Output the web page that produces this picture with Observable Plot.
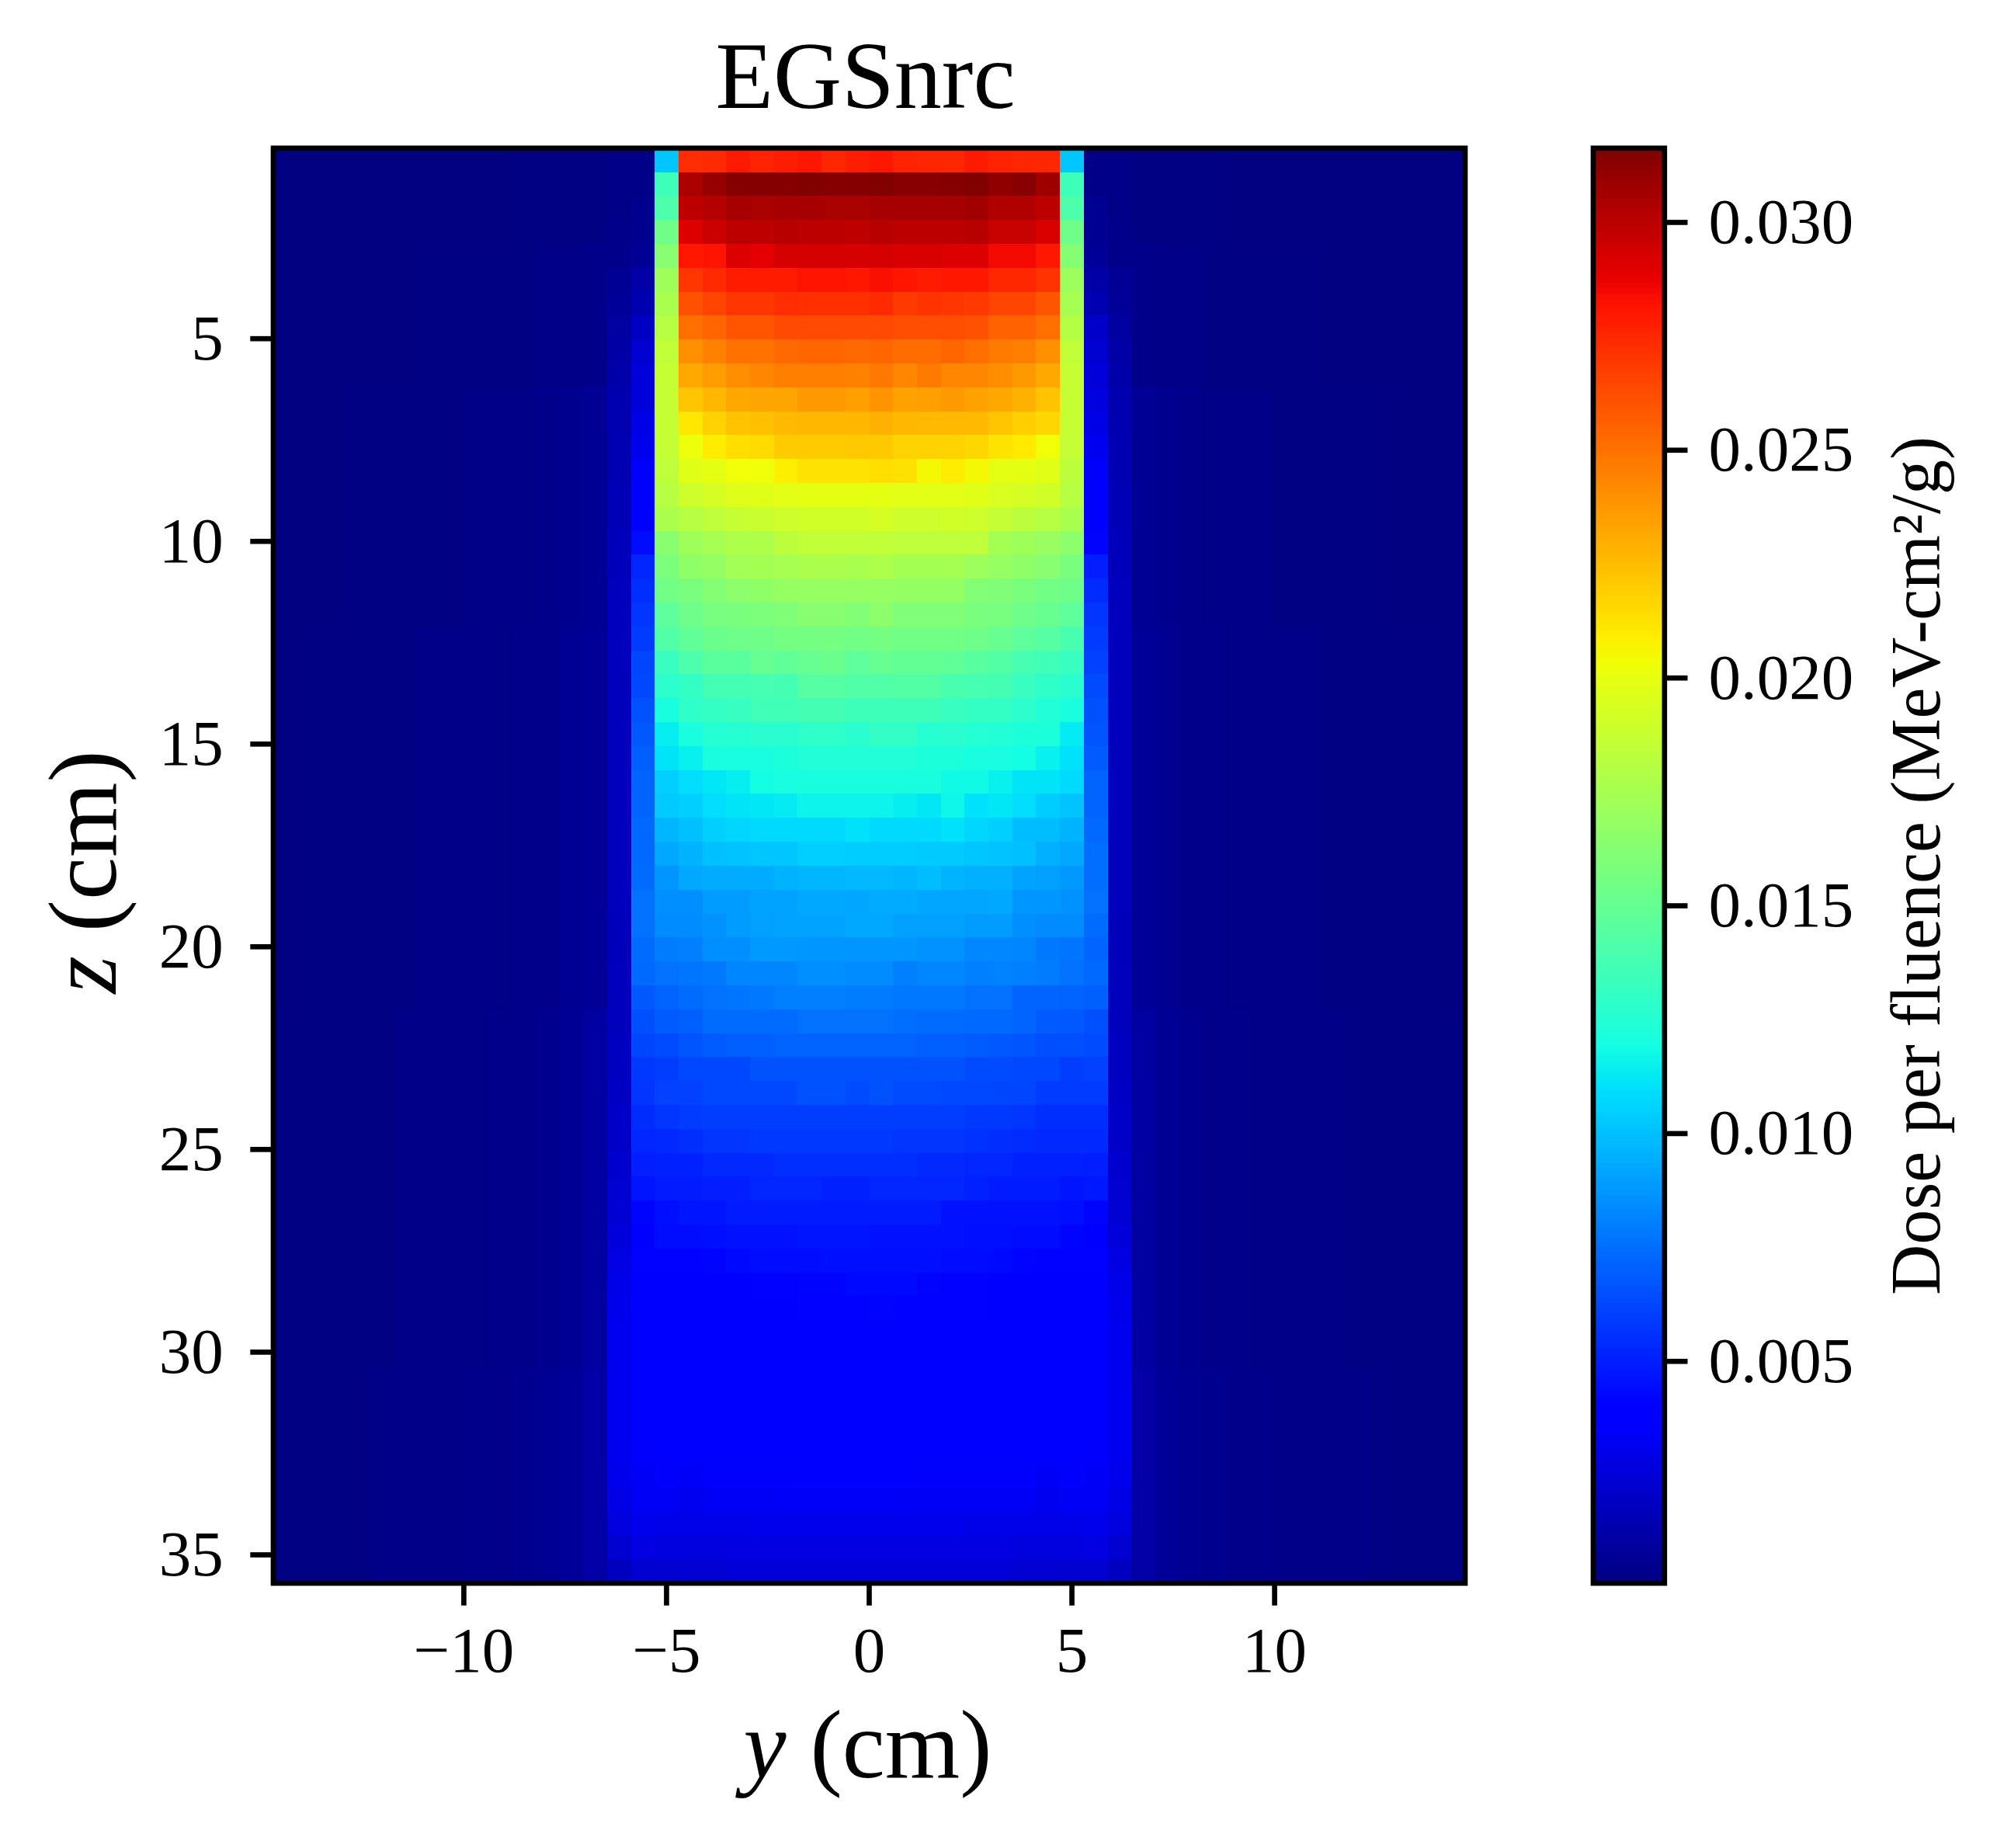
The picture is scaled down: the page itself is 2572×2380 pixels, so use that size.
<!DOCTYPE html>
<html>
<head>
<meta charset="utf-8">
<script src="https://cdn.jsdelivr.net/npm/d3@7"></script>
<script src="https://cdn.jsdelivr.net/npm/@observablehq/plot@0.6"></script>
<style>
html,body{margin:0;padding:0;background:#fff}
#page{position:relative;width:2572px;height:2380px;overflow:hidden;background:#fff}
#page svg{position:absolute;top:0;overflow:visible;background:transparent}
</style>
</head>
<body>
<div id="page"></div>
<script>
// Dose per fluence, in units of 1e-4 MeV-cm2/g.
const farLa=[1,1,1,1,1,1,1,1,1,1,2,2,2,2];
const farLb=[1,1,1,1,1,1,2,2,2,2,2,3,3,4];
const farLc=[1,1,1,2,2,2,2,2,3,3,3,4,5,7];
const farLd=[1,2,2,2,2,2,3,3,3,3,4,4,6,8];
const farLe=[2,2,2,2,2,3,3,3,3,4,4,5,7,10];
const farLf=[2,2,2,2,3,3,3,3,4,4,5,6,8,11];
const farRa=[2,2,2,2,1,1,1,1,1,1,1,1,1,1];
const farRb=[4,3,3,2,2,2,2,2,1,1,1,1,1,1];
const farRc=[7,5,4,3,3,3,2,2,2,2,2,1,1,1];
const farRd=[8,6,4,4,3,3,3,3,2,2,2,2,2,1];
const farRe=[10,7,5,4,4,3,3,3,3,2,2,2,2,2];
const farRf=[11,8,6,5,4,4,3,3,3,3,2,2,2,2];
const doseRows=[
[...farLa,3,3,102,273,274,279,276,278,280,275,278,280,276,275,275,279,276,275,275,102,3,3,...farRa],
[...farLa,3,3,135,305,310,315,315,315,316,315,315,316,314,314,315,316,312,314,308,135,3,3,...farRa],
[...farLa,3,5,141,300,302,306,305,306,306,305,305,306,306,306,306,307,303,303,300,141,6,3,...farRa],
[...farLa,4,5,154,291,296,300,300,301,300,300,299,301,300,300,300,301,297,297,292,153,6,4,...farRa],
[...farLb,4,7,163,280,282,291,289,293,293,293,293,293,292,292,291,291,285,285,280,162,8,4,...farRb],
[...farLb,7,11,172,270,274,279,279,279,282,282,280,283,281,279,280,280,275,275,271,171,12,7,...farRb],
[...farLb,8,14,176,261,265,270,270,273,272,272,272,274,269,271,270,269,265,265,260,175,15,8,...farRb],
[...farLb,10,20,181,251,254,260,260,263,263,263,263,263,262,262,262,261,255,255,251,180,21,10,...farRb],
[...farLb,12,23,185,240,245,250,250,253,254,254,253,254,252,252,254,251,247,246,240,185,23,12,...farRb],
[...farLb,13,26,187,232,236,241,243,246,246,246,245,248,243,247,243,243,241,237,232,187,26,13,...farRb],
[...farLc,14,26,187,222,227,232,233,233,237,237,235,239,234,235,237,234,232,229,223,187,27,14,...farRc],
[...farLc,14,29,187,211,218,223,224,226,227,227,227,229,227,226,226,226,222,219,216,187,29,14,...farRc],
[...farLc,15,31,186,202,209,214,215,220,220,220,221,221,218,218,218,216,212,210,203,186,32,15,...farRc],
[...farLc,15,35,184,197,199,203,203,208,212,212,212,214,213,205,209,205,199,199,197,183,35,15,...farRc],
[...farLc,16,37,181,190,193,196,197,198,199,199,199,199,198,198,198,197,194,193,191,181,37,16,...farRc],
[...farLc,16,38,177,181,184,187,188,190,191,191,191,193,190,190,191,190,186,183,181,176,38,16,...farRc],
[...farLc,17,44,164,172,175,178,178,183,185,185,185,185,184,184,184,184,174,172,170,165,42,17,...farRc],
[...farLc,17,52,159,166,168,173,174,175,177,177,176,178,174,174,174,171,169,166,163,158,50,17,...farRc],
[...farLc,18,55,155,158,162,165,166,169,169,169,169,169,168,168,168,161,160,158,155,154,54,18,...farRc],
[...farLc,18,57,147,153,157,158,159,160,163,163,161,165,160,160,160,158,157,153,151,147,57,18,...farRc],
[...farLd,18,59,142,148,152,153,154,156,156,156,155,156,155,155,155,153,151,147,144,139,59,18,...farRd],
[...farLd,18,62,133,140,146,146,150,148,150,152,147,150,149,149,148,145,143,138,136,133,61,18,...farRd],
[...farLd,18,63,128,131,137,137,138,137,144,144,142,142,143,143,139,138,137,133,129,127,64,18,...farRd],
[...farLd,18,66,121,129,131,132,136,136,137,137,135,135,135,135,133,131,131,128,124,121,66,18,...farRd],
[...farLd,18,68,114,121,125,126,127,127,129,129,127,130,130,126,127,125,124,122,122,113,67,18,...farRd],
[...farLd,18,70,111,115,121,121,121,122,124,124,124,124,124,122,122,120,120,119,115,110,69,18,...farRd],
[...farLd,18,71,105,109,112,114,119,120,121,121,121,121,121,121,118,118,115,111,111,108,72,18,...farRd],
[...farLd,18,72,103,105,109,111,112,113,116,116,116,116,114,112,117,110,112,109,104,101,72,18,...farRd],
[...farLd,18,73,97,100,105,107,108,108,108,108,110,108,108,108,110,107,105,99,99,96,73,18,...farRd],
[...farLd,18,73,93,96,100,101,102,102,105,105,104,104,104,103,103,102,101,100,95,93,75,18,...farRd],
[...farLd,18,74,87,93,94,94,94,96,97,97,98,98,97,99,96,95,95,91,90,88,75,18,...farRd],
[...farLd,18,76,85,85,89,89,91,91,93,93,92,94,94,92,92,92,93,87,87,86,76,18,...farRd],
[...farLd,17,76,84,84,86,89,90,91,91,91,93,93,90,90,90,89,89,85,84,84,74,17,...farRd],
[...farLd,17,74,79,80,85,85,88,88,87,87,87,87,87,86,86,83,83,82,78,77,72,17,...farRd],
[...farLd,18,73,76,77,78,82,82,82,85,85,84,84,80,82,82,80,81,80,79,76,73,18,...farRd],
[...farLd,18,68,71,74,76,77,78,80,80,80,79,79,78,78,78,76,76,72,72,71,70,18,...farRd],
[...farLe,18,65,69,70,74,74,74,74,76,76,76,76,75,74,74,73,73,72,69,68,65,18,...farRe],
[...farLe,19,62,64,67,69,70,70,71,71,71,71,71,71,70,70,69,68,67,65,65,64,19,...farRe],
[...farLe,19,58,60,63,63,63,66,66,66,66,66,66,66,66,66,64,64,63,63,60,61,19,...farRe],
[...farLe,20,57,61,61,63,63,63,63,66,66,64,66,64,64,63,63,62,62,59,59,59,20,...farRe],
[...farLe,21,54,57,59,60,60,60,60,60,60,60,60,60,60,60,58,58,57,55,55,55,21,...farRe],
[...farLe,21,52,53,55,57,57,58,58,58,58,58,58,57,57,57,56,55,54,53,53,53,21,...farRe],
[...farLe,22,50,51,51,53,53,53,55,55,55,55,55,55,53,53,52,52,51,51,51,50,22,...farRe],
[...farLe,23,47,49,49,50,50,52,52,52,51,51,52,52,52,52,51,49,49,49,47,48,23,...farRe],
[...farLe,24,42,45,47,47,49,49,49,49,49,49,49,49,49,46,46,46,46,46,45,42,24,...farRe],
[...farLe,26,40,44,44,45,46,46,46,47,47,47,46,46,46,46,45,45,44,44,42,40,26,...farRe],
[...farLe,28,41,41,41,42,43,44,44,44,45,45,45,45,45,44,44,43,42,41,41,41,28,...farRe],
[...farLe,30,38,39,39,39,40,41,41,42,42,43,43,43,42,41,41,40,39,39,39,38,30,...farRe],
[...farLe,31,37,38,38,38,38,39,39,41,41,41,42,41,41,41,41,39,38,38,38,37,31,...farRe],
[...farLe,32,36,37,37,37,38,38,38,39,39,39,39,39,39,39,38,38,38,37,37,36,32,...farRe],
[...farLe,32,36,36,37,37,37,38,38,38,38,38,38,38,38,38,38,38,37,37,36,36,32,...farRe],
[...farLf,32,36,36,37,37,37,37,38,38,38,38,38,38,38,37,37,37,37,37,36,36,32,...farRf],
[...farLf,32,36,36,37,37,37,37,37,38,38,38,38,38,37,37,37,37,37,37,36,36,32,...farRf],
[...farLf,32,36,36,36,37,37,37,37,37,38,38,38,37,37,37,37,37,37,36,36,36,32,...farRf],
[...farLf,32,35,36,36,36,37,37,37,37,37,37,37,37,37,37,37,37,36,36,36,35,32,...farRf],
[...farLf,31,34,35,34,35,35,35,35,36,36,36,36,36,35,35,35,35,35,34,35,34,31,...farRf],
[...farLf,29,33,33,32,33,33,33,34,34,34,34,34,34,33,33,33,33,33,32,33,33,29,...farRf],
[...farLf,27,31,30,30,30,30,31,31,31,31,31,31,31,31,31,30,30,30,30,30,31,27,...farRf],
[...farLf,23,28,27,27,27,28,28,28,28,28,28,28,28,28,28,28,28,27,27,27,28,23,...farRf],
[...farLf,19,23,23,24,24,25,25,25,25,25,25,25,25,25,25,25,25,24,24,23,23,19,...farRf]
];
const doseValues=doseRows.flat().map(v=>v/1e4);

// Axis extents and ticks
const yExtent=[-14.7,14.7];
const zExtent=[0.3,35.7];
const yTicks=[-10,-5,0,5,10];
const zTicks=[5,10,15,20,25,30,35];
const barDomain=[0.00013,0.03163];
const barTicks=[0.005,0.01,0.015,0.02,0.025,0.03];

// matplotlib jet control points
const jetStops=[0,0.11,0.125,0.34,0.35,0.375,0.64,0.65,0.66,0.89,0.91,1];
const jetColors=["rgb(0,0,128)","rgb(0,0,255)","rgb(0,0,255)","rgb(0,219,255)","rgb(0,230,247)","rgb(21,255,226)","rgb(239,255,8)","rgb(247,246,0)","rgb(255,236,0)","rgb(255,19,0)","rgb(232,0,0)","rgb(128,0,0)"];
const colorScale={type:"linear",domain:jetStops.map(t=>barDomain[0]+t*(barDomain[1]-barDomain[0])),range:jetColors,clamp:true};

const font="'Liberation Serif',serif";
const lineW=6.67, tickL=29.2;

const main=Plot.plot({
  width:1960,height:2380,
  marginLeft:351.5,marginRight:73.5,marginTop:190.3,marginBottom:341.5,
  style:{fontFamily:font,background:"transparent"},
  x:{domain:yExtent,label:null},
  y:{domain:zExtent,reverse:true,label:null},
  color:colorScale,
  marks:[
    Plot.raster(doseValues,{fill:Plot.identity,width:50,height:60,x1:yExtent[0],x2:yExtent[1],y1:zExtent[0],y2:zExtent[1],imageRendering:"pixelated"}),
    Plot.frame({stroke:"#000",strokeWidth:lineW}),
    Plot.axisX({ticks:yTicks,tickSize:tickL,tickPadding:26,strokeWidth:lineW,stroke:"#000",fontSize:83,fill:"#000",label:null,tickFormat:d=>d<0?"\u2212"+Math.abs(d):String(d)}),
    Plot.axisY({ticks:zTicks,tickSize:tickL,tickPadding:35,strokeWidth:lineW,stroke:"#000",fontSize:83,fill:"#000",label:null,tickFormat:d=>String(d)}),
    Plot.text(["EGSnrc"],{frameAnchor:"top",dx:-5,dy:-52,lineAnchor:"bottom",fontSize:122,fill:"#000"}),
    Plot.text(["y (cm)"],{frameAnchor:"bottom",dx:-2,dy:250,lineAnchor:"bottom",fontSize:124,fill:"#000"}),
    Plot.text(["z (cm)"],{frameAnchor:"left",textAnchor:"middle",dx:-243,dy:8,rotate:-90,fontSize:124,fill:"#000"})
  ]
});

const bar=Plot.plot({
  width:612,height:2380,
  marginLeft:91.5,marginRight:428.7,marginTop:190.3,marginBottom:341.5,
  style:{fontFamily:font,background:"transparent"},
  x:{domain:[0,1],axis:null},
  y:{domain:barDomain,label:null},
  color:colorScale,
  marks:[
    Plot.raster({fill:(x,y)=>y,width:1,height:256,x1:0,x2:1,y1:barDomain[0],y2:barDomain[1],imageRendering:"pixelated"}),
    Plot.frame({stroke:"#000",strokeWidth:lineW}),
    Plot.axisY({anchor:"right",ticks:barTicks,tickSize:tickL,tickPadding:27.5,strokeWidth:lineW,stroke:"#000",fontSize:83,fill:"#000",label:null,tickFormat:d=>d.toFixed(3)}),
    Plot.text(["Dose per fluence (MeV-cm\u00B2/g)"],{frameAnchor:"right",textAnchor:"middle",dx:325,rotate:-90,fontSize:90,fill:"#000"})
  ]
});
bar.style.left="1960px";
main.style.left="0px";
document.getElementById("page").append(main,bar);

// italic axis letters
main.querySelectorAll("text").forEach(t=>{
  const s=t.textContent;
  if(s==="y (cm)"||s==="z (cm)"){
    t.textContent="";
    const i=document.createElementNS("http://www.w3.org/2000/svg","tspan");
    i.setAttribute("font-style","italic");
    i.textContent=s[0];
    t.append(i,s.slice(1));
  }
});
</script>
</body>
</html>
